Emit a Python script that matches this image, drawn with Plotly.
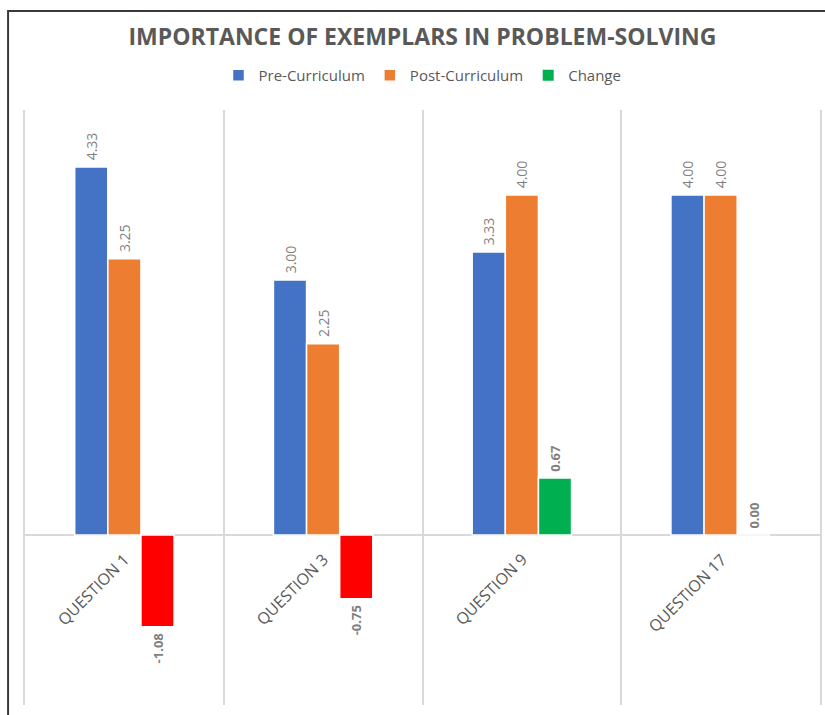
import plotly.graph_objects as go

categories = ["QUESTION 1", "QUESTION 3", "QUESTION 9", "QUESTION 17"]
pre_values = [4.33, 3.00, 3.33, 4.00]
post_values = [3.25, 2.25, 4.00, 4.00]
change_values = [-1.08, -0.75, 0.67, 0.00]

BLUE = "#4472C4"
ORANGE = "#ED7D31"
GREEN = "#00B050"
RED = "#FF0000"
FONT = "Open Sans"
NB = "\u00a0"

change_colors = [GREEN if v >= 0 else RED for v in change_values]


def lab(v, bold=False):
    s = f"{v:.2f}"
    if bold:
        s = f"<b>{s}</b>"
    return (NB + s) if v >= 0 else (s + NB)


common = dict(textposition="outside", textangle=-90, cliponaxis=False,
              constraintext="none")

fig = go.Figure()
fig.add_trace(go.Bar(
    name="Pre-Curriculum", x=categories, y=pre_values,
    marker=dict(color=BLUE, line=dict(color="white", width=1.5)),
    text=[lab(v) for v in pre_values],
    textfont=dict(family=FONT, size=14, color="#7F7F7F"), **common,
))
fig.add_trace(go.Bar(
    name="Post-Curriculum", x=categories, y=post_values,
    marker=dict(color=ORANGE, line=dict(color="white", width=1.5)),
    text=[lab(v) for v in post_values],
    textfont=dict(family=FONT, size=14, color="#7F7F7F"), **common,
))
fig.add_trace(go.Bar(
    name="Change", x=categories, y=change_values, showlegend=False,
    marker=dict(color=change_colors, line=dict(color="white", width=1.5)),
    text=[lab(v, True) for v in change_values],
    textfont=dict(family=FONT, size=13, color="#7F7F7F"), **common,
))
# legend entry for "Change" with its green swatch
fig.add_trace(go.Scatter(
    name="Change", x=[None], y=[None], mode="markers",
    marker=dict(symbol="square", size=11, color=GREEN), showlegend=True,
))

for c in categories:
    fig.add_annotation(
        x=c, y=0, xref="x", yref="y", text=c, showarrow=False,
        textangle=-45, xanchor="right", yanchor="top", xshift=13, yshift=-11,
        font=dict(family=FONT, size=16, color="#595959"),
    )

# chart border
fig.add_shape(type="rect", xref="paper", yref="paper",
              x0=-0.0213, x1=1.06, y0=-0.06, y1=1.1664,
              line=dict(color="#3a3a3a", width=2), layer="below")

fig.update_layout(
    width=825, height=715,
    margin=dict(l=25, r=3, t=110, b=10),
    paper_bgcolor="white", plot_bgcolor="white",
    barmode="group", bargap=0.5, bargroupgap=0.0,
    title=dict(
        text="<b>IMPORTANCE OF EXEMPLARS IN PROBLEM-SOLVING</b>",
        x=0.5, xanchor="center", xref="paper", y=0.948, yanchor="middle",
        font=dict(family=FONT, size=23, color="#595959"),
    ),
    legend=dict(
        orientation="h", x=0.5, xanchor="center", y=1.058, yanchor="middle",
        font=dict(family=FONT, size=15, color="#595959"),
        traceorder="normal",
    ),
    xaxis=dict(
        type="category", showticklabels=False, ticks="",
        showgrid=True, gridcolor="#D9D9D9", gridwidth=1.5, tickson="boundaries",
        showline=False, zeroline=False,
        range=[-0.5, 3.5],
    ),
    yaxis=dict(
        range=[-2, 5], showticklabels=False, showgrid=False, ticks="",
        zeroline=True, zerolinecolor="#D9D9D9", zerolinewidth=1.5,
        showline=True, mirror=True, linecolor="#D9D9D9", linewidth=1.5,
    ),
    showlegend=True,
)

fig.write_html("out.html")
